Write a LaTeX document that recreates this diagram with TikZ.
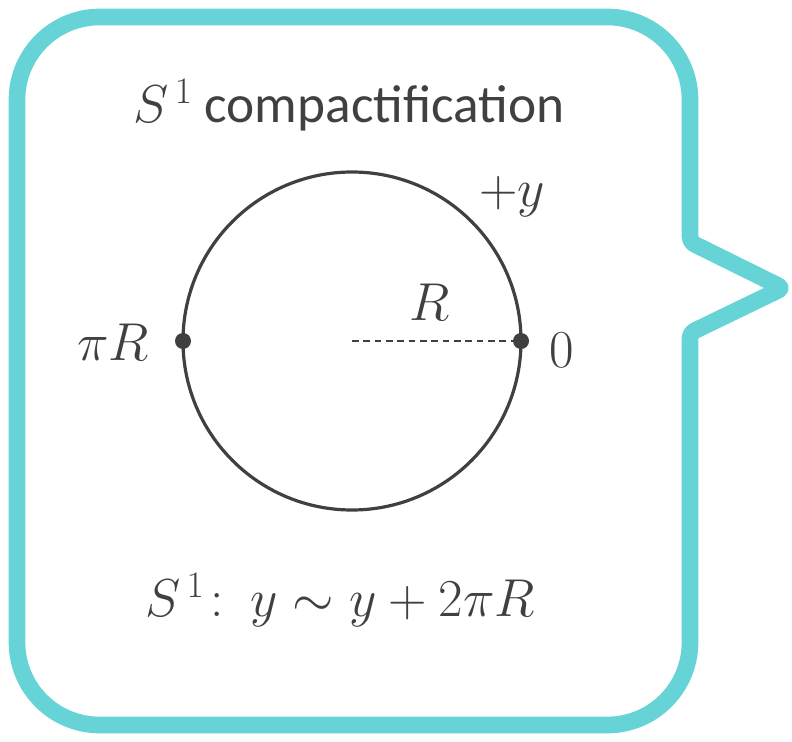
\documentclass[tikz,border=0pt]{standalone}
\usepackage{fix-cm}
\usepackage{fontspec}
\setmainfont{Carlito}
\begin{document}
\begin{tikzpicture}[x=0.75pt,y=-0.75pt]
\definecolor{bub}{HTML}{66D3D6}
\definecolor{ink}{HTML}{404040}
\tikzset{
  lbl/.style={text=ink,font=\fontsize{40}{48}\selectfont,inner sep=0pt},
  pt/.style={circle,fill=ink,inner sep=0pt,minimum size=12pt},
}
\useasboundingbox (0,0) rectangle (792,742);
\draw[bub,line width=12.5pt,line join=round,rounded corners=62pt]
  (17,400) -- (17,17) -- (690,17) [rounded corners=4pt] -- (690,242) -- (783,288) -- (690,333)
  [rounded corners=62pt] -- (690,725) -- (17,725) -- cycle;
\node[circle,draw=ink,line width=2.4pt,minimum size=253.5pt,inner sep=0pt] (circ) at (352,341) {};
\coordinate (c) at (352,341);
\node[pt] (p0) at (521,341) {};
\node[pt] (ppi) at (183,341) {};
\draw[ink,line width=1.5pt,dash pattern=on 5pt off 3.5pt] (c) -- (p0);
\node[lbl] (title) at (349,105) {$S^{\,1}$ compactification};
\node[lbl] (ly) at (512,197) {$+y$};
\node[lbl] (lR) at (430,302) {$R$};
\node[lbl] (l0) at (562,350) {$0$};
\node[lbl] (lpi) at (113,342) {$\pi R$};
\node[lbl] (eq) at (340,600) {$S^{\,1}\!:\ y\sim y+2\pi R$};
\end{tikzpicture}
\end{document}
